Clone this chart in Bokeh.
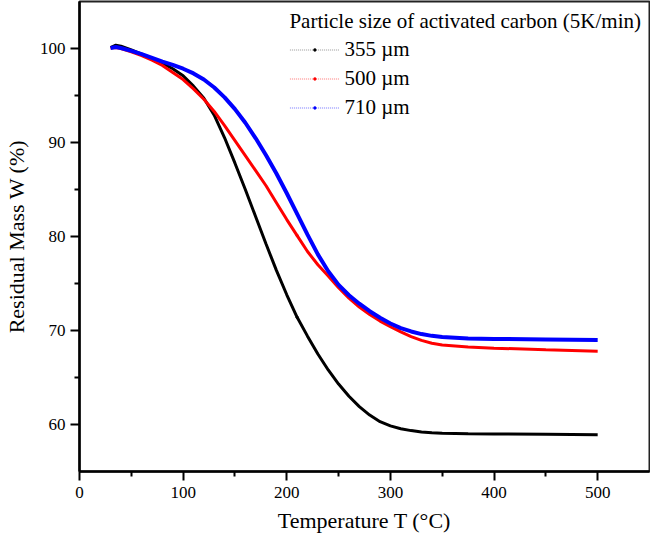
from bokeh.plotting import figure
from bokeh.models import (Range1d, FixedTicker, Legend, LegendItem, ColumnDataSource,
                          CDSView, IndexFilter)
from bokeh.embed import file_html
from bokeh.resources import INLINE

temperature = [30, 35, 40, 50, 60, 70, 80, 90, 100, 110, 120, 130, 140, 150, 160, 170,
               180, 190, 200, 210, 220, 230, 240, 250, 260, 270, 280, 290, 300, 310,
               320, 330, 340, 350, 375, 400, 450, 500]

w_355 = [100.1, 100.35, 100.25, 99.85, 99.4, 98.95, 98.45, 97.85, 97.1, 96.0, 94.7, 92.9,
         90.5, 87.8, 85.0, 82.1, 79.2, 76.4, 73.8, 71.4, 69.4, 67.5, 65.8, 64.3, 63.0,
         61.9, 61.0, 60.3, 59.85, 59.55, 59.35, 59.2, 59.12, 59.08, 59.02, 59.0, 58.95, 58.9]

w_500 = [100.05, 100.1, 100.0, 99.65, 99.25, 98.75, 98.2, 97.45, 96.7, 95.7, 94.6, 93.3,
         91.8, 90.2, 88.6, 87.0, 85.4, 83.6, 81.8, 80.1, 78.4, 77.0, 75.8, 74.55, 73.45,
         72.5, 71.7, 71.0, 70.4, 69.85, 69.35, 68.95, 68.65, 68.45, 68.25, 68.12, 67.95, 67.8]

w_710 = [100.05, 100.15, 100.05, 99.75, 99.4, 99.0, 98.6, 98.25, 97.85, 97.35, 96.7, 95.85,
         94.8, 93.55, 92.1, 90.45, 88.65, 86.7, 84.6, 82.4, 80.2, 78.1, 76.3, 74.85, 73.75,
         72.85, 72.05, 71.35, 70.75, 70.25, 69.9, 69.62, 69.43, 69.3, 69.15, 69.1, 69.05, 69.0]

series_labels = ["355 µm", "500 µm", "710 µm"]
series_colors = ["#000000", "#ff0000", "#0000ff"]
legend_line_colors = ["#999999", "#ff7777", "#7777ff"]
series_widths = [3, 3, 4]

x_major = [0, 100, 200, 300, 400, 500]
x_minor = [50, 150, 250, 350, 450]
y_major = [60, 70, 80, 90, 100]
y_minor = [65, 75, 85, 95]

FONT = "Liberation Serif"

p = figure(width=650, height=535, output_backend="svg", toolbar_location=None,
           x_range=Range1d(0, 550), y_range=Range1d(55, 105),
           min_border_left=4, min_border_right=1, min_border_top=1, min_border_bottom=4)

p.xgrid.visible = False
p.ygrid.visible = False
p.outline_line_color = "#222222"
p.outline_line_width = 2
p.background_fill_color = "white"
p.border_fill_color = "white"

for ax, maj, mnr in [(p.xaxis[0], x_major, x_minor), (p.yaxis[0], y_major, y_minor)]:
    ax.ticker = FixedTicker(ticks=maj, minor_ticks=mnr)
    ax.axis_line_width = 2.5
    ax.axis_line_color = "black"
    ax.major_tick_line_width = 2
    ax.minor_tick_line_width = 2
    ax.major_tick_out = 9
    ax.major_tick_in = 0
    ax.minor_tick_out = 5
    ax.minor_tick_in = 0
    ax.major_label_text_font = FONT
    ax.major_label_text_font_size = "17px"
    ax.major_label_text_color = "black"
    ax.axis_label_text_font = FONT
    ax.axis_label_text_font_size = "22px"
    ax.axis_label_text_font_style = "normal"
    ax.axis_label_text_color = "black"

p.xaxis.axis_label = "Temperature T (°C)"
p.yaxis.axis_label = "Residual Mass W (%)"
p.xaxis.major_label_standoff = 6
p.xaxis.axis_label_standoff = 7
p.yaxis.major_label_standoff = 5
p.yaxis.axis_label_standoff = 8

series = [w_355, w_500, w_710]
sources = [ColumnDataSource(data=dict(t=temperature, w=vals)) for vals in series]

# legend-only renderers: keep one hidden sample point (covered by the curve drawn later)
items = []
for src, lab, col, lcol in zip(sources, series_labels, series_colors, legend_line_colors):
    k = len(temperature) // 2
    lg_line = p.line("t", "w", source=src, view=CDSView(filter=IndexFilter(indices=[k])),
                     line_color=lcol, line_width=1.2, line_dash="1 1")
    lg_dot = p.scatter("t", "w", source=src, view=CDSView(filter=IndexFilter(indices=[k])),
                       marker="circle", size=2.5, fill_color=col, line_color=col, line_width=0.5)
    items.append(LegendItem(label=lab, renderers=[lg_line, lg_dot]))

for src, col, lw in zip(sources, series_colors, series_widths):
    p.line("t", "w", source=src, line_color=col, line_width=lw)

legend = Legend(items=items, location="top_right", title="Particle size of activated carbon (5K/min)")
legend.title_text_font = FONT
legend.title_text_font_size = "21px"
legend.title_text_font_style = "normal"
legend.title_text_color = "black"
legend.title_standoff = 3
legend.label_text_font = FONT
legend.label_text_font_size = "21px"
legend.label_text_color = "black"
legend.glyph_width = 50
legend.glyph_height = 7
legend.label_height = 20
legend.label_standoff = 5
legend.spacing = 4
legend.padding = 0
legend.margin = 8
legend.border_line_color = None
legend.background_fill_alpha = 0
p.add_layout(legend, "center")

open("out.html", "w").write(file_html(p, INLINE))
